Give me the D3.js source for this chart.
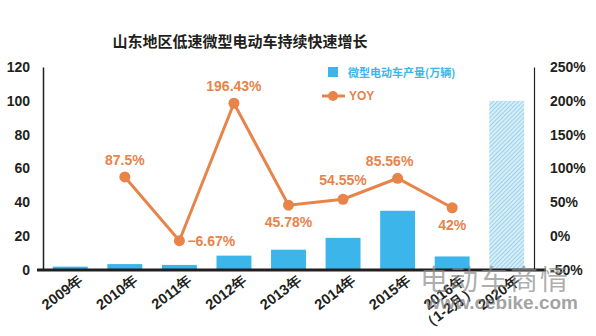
<!DOCTYPE html>
<html><head><meta charset="utf-8">
<script src="https://cdn.jsdelivr.net/npm/d3@7"></script>
<style>body{margin:0;background:#fff}svg{display:block}</style>
</head><body>
<script>
const categories = ["2009年","2010年","2011年","2012年","2013年","2014年","2015年","2016年|（1-2月）","2020年"];
const production = [2, 3.5, 3, 8.5, 12, 19, 35, 8, 100];
const yoyCats = ["2010年","2011年","2012年","2013年","2014年","2015年","2016年|（1-2月）"];
const yoy = [87.5, -6.67, 196.43, 45.78, 54.55, 85.56, 42];
const yoyLabels = ["87.5%","−6.67%","196.43%","45.78%","54.55%","85.56%","42%"];
const leftTicks = [0,20,40,60,80,100,120];
const rightTicks = [-50,0,50,100,150,200,250];
const title = "山东地区低速微型电动车持续快速增长";

const W=596,H=336;
const svg=d3.select("body").append("svg").attr("width",W).attr("height",H);
const defs=svg.append("defs");
const pat=defs.append("pattern").attr("id","hatch").attr("patternUnits","userSpaceOnUse").attr("width",3).attr("height",3).attr("patternTransform","rotate(45)");
pat.append("rect").attr("width",3).attr("height",3).attr("fill","#d7eef8");
pat.append("line").attr("x1",0).attr("y1",0).attr("x2",0).attr("y2",3).attr("stroke","#7fc8e6").attr("stroke-width",1.4);

const x=d3.scaleBand().domain(categories).range([43,534]).paddingInner(0.36).paddingOuter(0.18);
const yL=d3.scaleLinear().domain([0,120]).range([270,67]);
const yR=d3.scaleLinear().domain([-50,250]).range([270,67]);
const font="'Liberation Sans', Arial, sans-serif";
const cjk="'Noto Sans CJK SC', sans-serif";

svg.append("text").attr("x",240).attr("y",47).attr("text-anchor","middle").attr("font-family",cjk).attr("font-weight","bold").attr("font-size",15).attr("fill","#231f20").text(title);

// bars
svg.selectAll("rect.bar").data(categories).enter().append("rect")
 .attr("x",d=>x(d)).attr("width",x.bandwidth())
 .attr("y",(d,i)=>yL(production[i])).attr("height",(d,i)=>yL(0)-yL(production[i]))
 .attr("fill",(d,i)=>i===categories.length-1?"url(#hatch)":"#3cb6ea");

// axes
const axL=svg.append("g").attr("transform","translate(43,0)").call(d3.axisLeft(yL).tickValues(leftTicks).tickSize(0).tickPadding(13));
axL.select(".domain").attr("stroke","#231f20").attr("stroke-width",1.5);
axL.selectAll("text").attr("font-family",font).attr("font-weight","bold").attr("font-size",14).attr("fill","#231f20");
const axR=svg.append("g").attr("transform","translate(534,0)").call(d3.axisRight(yR).tickValues(rightTicks).tickSize(0).tickPadding(16).tickFormat(d=>d+"%"));
axR.select(".domain").attr("stroke","#231f20").attr("stroke-width",1.2);
axR.selectAll("text").attr("font-family",font).attr("font-weight","bold").attr("font-size",14).attr("fill","#231f20");

const axB=svg.append("g").attr("transform","translate(0,270)").call(d3.axisBottom(x).tickSize(0).tickFormat(""));
axB.select(".domain").remove();
svg.append("line").attr("x1",37).attr("x2",546).attr("y1",270).attr("y2",270).attr("stroke","#231f20").attr("stroke-width",3);

// x labels
categories.forEach(c=>{
  const parts=c.split("|");
  const cx=x(c)+x.bandwidth()/2+14, cy=282;
  const t=svg.append("text").attr("transform",`translate(${cx},${cy}) rotate(-37)`).attr("text-anchor","end")
    .attr("font-family",font).attr("font-weight","bold").attr("font-size",14.5).attr("fill","#231f20");
  parts.forEach((p,i)=>t.append("tspan").attr("x",i?4:0).attr("dy",i?15:0).text(p));
});

// line
const lx=d=>x(d)+x.bandwidth()/2;
const orange="#e8834a";
svg.append("path").datum(yoyCats).attr("fill","none").attr("stroke",orange).attr("stroke-width",3)
 .attr("d",d3.line().x(d=>lx(d)).y((d,i)=>yR(yoy[i])));
svg.selectAll("circle.pt").data(yoyCats).enter().append("circle").attr("cx",d=>lx(d)).attr("cy",(d,i)=>yR(yoy[i])).attr("r",5.5).attr("fill",orange);
const off=[[0,-12,"middle"],[8,5,"start"],[0,-12,"middle"],[0,22,"middle"],[0,-14,"middle"],[-8,-12,"middle"],[0,22,"middle"]];
yoyCats.forEach((c,i)=>{
  svg.append("text").attr("x",lx(c)+off[i][0]).attr("y",yR(yoy[i])+off[i][1]).attr("text-anchor",off[i][2])
   .attr("font-family",font).attr("font-weight","bold").attr("font-size",14).attr("fill",orange).text(yoyLabels[i]);
});

// legend
svg.append("rect").attr("x",328).attr("y",67).attr("width",10).attr("height",10).attr("fill","#3cb6ea");
svg.append("text").attr("x",348).attr("y",77).attr("font-family",cjk).attr("font-weight","bold").attr("font-size",11).attr("fill","#3cb6ea").text("微型电动车产量(万辆)");
svg.append("line").attr("x1",322).attr("x2",345).attr("y1",96).attr("y2",96).attr("stroke",orange).attr("stroke-width",3);
svg.append("circle").attr("cx",333).attr("cy",96).attr("r",5).attr("fill",orange);
svg.append("text").attr("x",349).attr("y",100).attr("font-family",font).attr("font-weight","bold").attr("font-size",12).attr("fill",orange).text("YOY");

// watermark
svg.append("text").attr("x",420).attr("y",290).attr("font-family","'Noto Sans CJK SC', serif").attr("font-size",28).attr("letter-spacing",2).attr("fill","#8a8a8a").attr("fill-opacity",0.7).text("电动车商情");
svg.append("text").attr("x",578).attr("y",309).attr("text-anchor","end").attr("font-family",font).attr("font-weight","bold").attr("font-size",19).attr("fill","#7a7a7a").attr("fill-opacity",0.7).text("www.cebike.com");
</script>
</body></html>
